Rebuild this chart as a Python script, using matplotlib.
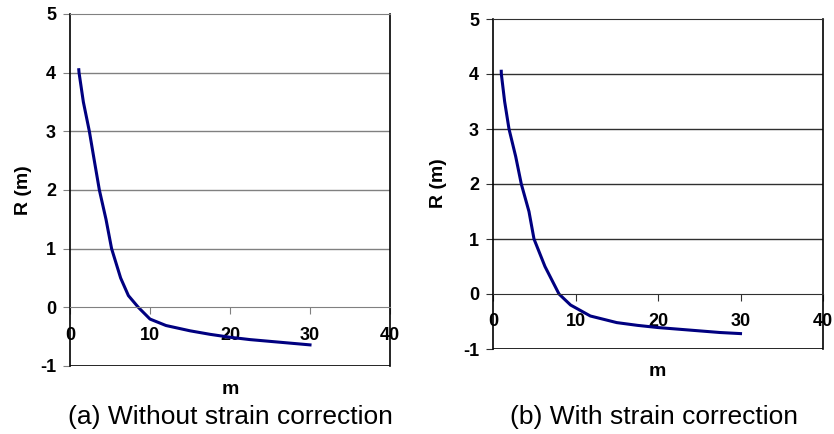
import matplotlib.pyplot as plt

plt.rcParams['font.family'] = ['Liberation Sans', 'DejaVu Sans']

# (a) without strain correction
m_a = [1.1, 1.13, 1.67, 2.42, 3.04, 3.67, 4.5, 5.2, 6.33, 7.3, 8.54, 10, 12, 15, 17.5, 20, 22.5, 25, 27.5, 30]
R_a = [4.05, 4.0, 3.5, 3.0, 2.5, 2.0, 1.5, 1.0, 0.5, 0.2, 0.0, -0.2, -0.31, -0.40, -0.46,
       -0.51, -0.55, -0.58, -0.61, -0.64]

# (b) with strain correction
m_b = [1.0, 1.01, 1.41, 1.94, 2.75, 3.43, 4.36, 4.97, 6.3, 8.0, 9.4, 11.8, 15, 17.5, 20, 22.5, 25, 27.5, 30]
R_b = [4.05, 4.0, 3.5, 3.0, 2.5, 2.0, 1.5, 1.0, 0.5, 0.0, -0.2, -0.4, -0.52, -0.57,
       -0.61, -0.64, -0.67, -0.70, -0.72]

x_ticks = [0, 10, 20, 30, 40]
y_ticks = [-1, 0, 1, 2, 3, 4, 5]
captions = ['(a) Without strain correction', '(b) With strain correction']

W, H = 834, 434
fig = plt.figure(figsize=(W / 100, H / 100), dpi=100)

def px_axes(x0, y0, x1, y1):
    return fig.add_axes([x0 / W, 1 - y1 / H, (x1 - x0) / W, (y1 - y0) / H])

def draw_panel(ax, m, R, grid_color):
    ax.plot(m, R, color='#000080', linewidth=2.2)
    # x axis crosses at R = 0, plot area border all round
    ax.spines['bottom'].set_position(('data', 0))
    ax.spines['bottom'].set_color(grid_color)
    ax.spines['top'].set_color(grid_color)
    ax.axhline(-1, color='black', linewidth=1.2)
    ax.spines['left'].set_linewidth(1.2)
    ax.spines['right'].set_linewidth(1.2)
    ax.set_xlim(0, 40)
    ax.set_ylim(-1, 5)
    ax.set_xticks(x_ticks)
    ax.set_yticks(y_ticks)
    ax.set_xticklabels([str(v) for v in x_ticks], fontweight='bold', fontsize=13)
    ax.set_yticklabels([str(v) for v in y_ticks], fontweight='bold', fontsize=13)
    for v in y_ticks[2:-1]:
        ax.axhline(v, color=grid_color, linewidth=1.0, zorder=0)
    ax.tick_params(axis='x', direction='out', length=5, pad=9, color=grid_color)
    ax.tick_params(axis='y', direction='out', length=5, pad=5, color=grid_color)

ax1 = px_axes(70, 14, 390, 366)
draw_panel(ax1, m_a, R_a, '#808080')
ax2 = px_axes(493, 19, 823, 349)
draw_panel(ax2, m_b, R_b, '#303030')

fig.text(23 / W, 1 - 190 / H, 'R (m)', rotation=90, fontsize=14, fontweight='bold', ha='center', va='center')
fig.text(439 / W, 1 - 183 / H, 'R (m)', rotation=90, fontsize=14, fontweight='bold', ha='center', va='center')
fig.text(230 / W, 1 - 390 / H, 'm', fontsize=14, fontweight='bold', ha='center', va='center')
fig.text(657 / W, 1 - 372 / H, 'm', fontsize=14, fontweight='bold', ha='center', va='center')
fig.text(230 / W, 1 - 417 / H, captions[0], fontsize=19, ha='center', va='center')
fig.text(654 / W, 1 - 417 / H, captions[1], fontsize=19, ha='center', va='center')

fig.savefig('out.png', dpi=100)
